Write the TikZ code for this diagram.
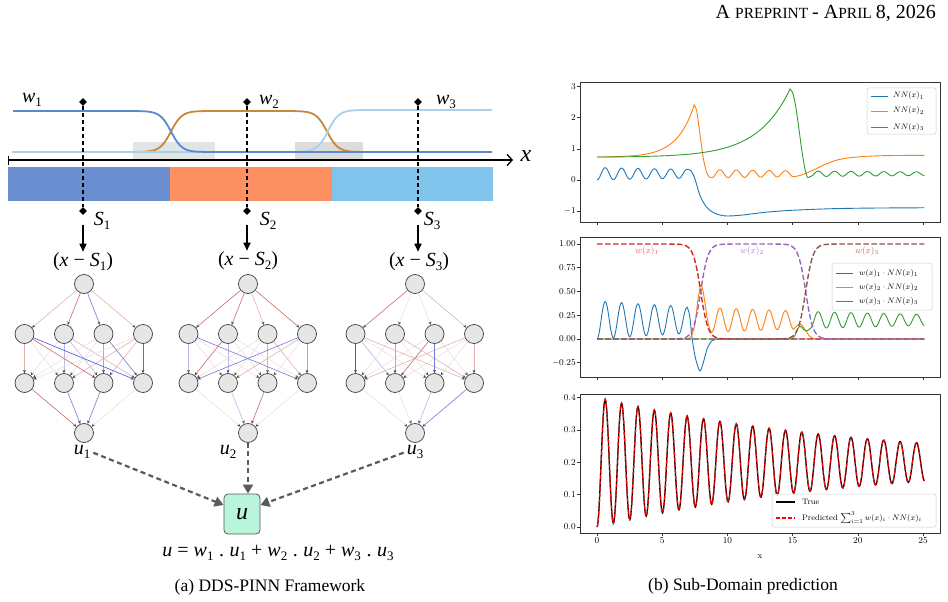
\documentclass[tikz,border=0pt]{standalone}
\usepackage{fontspec}
\newfontfamily\tnr{Liberation Serif}
\usetikzlibrary{arrows.meta,shapes.geometric}
\definecolor{wblue}{HTML}{5B89CF}
\definecolor{worange}{HTML}{C8883C}
\definecolor{wlight}{HTML}{A9D1EA}
\definecolor{barA}{HTML}{6A8ECF}
\definecolor{barB}{HTML}{FD9060}
\definecolor{barC}{HTML}{80C4EB}
\definecolor{grayA}{HTML}{E1E5E4}
\definecolor{grayB}{HTML}{DCDCDC}
\definecolor{nodefill}{HTML}{E6E6E6}
\definecolor{efa}{HTML}{F0E0E0}
\definecolor{erl}{HTML}{E3B0B0}
\definecolor{erm}{HTML}{CC6A6A}
\definecolor{ers}{HTML}{D44A4A}
\definecolor{egr}{HTML}{C9A0A0}
\definecolor{ebl}{HTML}{B8B8EC}
\definecolor{ebm}{HTML}{7878DA}
\definecolor{ebs}{HTML}{4E4EE6}
\definecolor{boxfill}{HTML}{B9F5DA}
\definecolor{darrow}{HTML}{5A5A5A}
\definecolor{mCa}{HTML}{1F77B4}
\definecolor{mCb}{HTML}{FF7F0E}
\definecolor{mCc}{HTML}{2CA02C}
\definecolor{mCd}{HTML}{D62728}
\definecolor{mCe}{HTML}{9467BD}
\definecolor{mCf}{HTML}{8C564B}
\definecolor{frm}{HTML}{333333}
\newcommand{\vsub}[2]{\textit{#1}\raisebox{-0.4ex}{\fontsize{13}{13}\selectfont #2}}
\newcommand{\nnet}[2]{%
  \node[nn] (#1i) at (#2,284) {};
  \foreach \k/\dx in {1/-59.5,2/-20,3/19.5,4/59}{%
    \node[nn] (#1a\k) at (#2+\dx,334) {};
    \node[nn] (#1b\k) at (#2+\dx,383) {};}
  \node[nn] (#1o) at (#2,433) {};}
\begin{document}
\begin{tikzpicture}[x=1pt,y=-1pt,
  declare function={uu(\x)=0.2-0.2*exp(-0.049*\x)*cos(deg(5*\x));},
  nn/.style={circle,draw=black!75,fill=nodefill,minimum size=19pt,inner sep=0pt,line width=0.7pt},
  edge/.style={line width=0.6pt,-{Stealth[length=3.3pt,width=3pt,color=black!70]}},
  diam/.style={diamond,fill=black,inner sep=0pt,minimum size=8pt},
  vdash/.style={line width=1.6pt,dash pattern=on 4pt off 3pt},
  sarrow/.style={line width=1.6pt,-{Triangle[length=8pt,width=7pt]}},
  garrow/.style={draw=darrow,line width=2.2pt,dash pattern=on 5pt off 3.5pt,-{Triangle[length=9pt,width=10pt]}},
  lab/.style={font=\tnr\fontsize{20}{24}\selectfont,inner sep=1pt},
  ubox/.style={draw=black!65,fill=boxfill,rounded corners=4pt,minimum width=36pt,minimum height=40pt,line width=0.8pt,font=\tnr\fontsize{24}{24}\selectfont},
  wline/.style={line width=1.8pt},
  frame/.style={draw=frm,line width=0.6pt},
  ticklab/.style={font=\fontsize{8.6}{10}\selectfont,inner sep=1.5pt},
  legtxt/.style={font=\fontsize{8}{9.5}\selectfont,anchor=west,inner sep=0pt},
  legframe/.style={draw=black!20,fill=white,fill opacity=0.8,rounded corners=2pt,line width=0.5pt},
  wdash/.style={line width=1.4pt,dash pattern=on 5.5pt off 2.5pt},
  curve/.style={line width=0.9pt},
  captext/.style={font=\tnr\fontsize{17.5}{20}\selectfont}
]
\useasboundingbox (0,0) rectangle (948,602);
\fill[white] (0,0) rectangle (948,602);

% header
\node[anchor=base east,inner sep=0pt] (hdr) at (936,19) {\tnr\fontsize{20}{20}\selectfont A \fontsize{15.5}{15.5}\selectfont PREPRINT \fontsize{20}{20}\selectfont - A\fontsize{15.5}{15.5}\selectfont PRIL \fontsize{20}{20}\selectfont 8, 2026};

% ---------- left: partition of unity ----------
\fill[grayA] (133,142) rectangle (215,159);
\fill[grayB] (295,142) rectangle (363,159);
\fill[barA] (8,167) rectangle (170,201);
\fill[barB] (170,167) rectangle (332,201);
\fill[barC] (332,167) rectangle (493,201);

\draw[wline,worange] (12,152) -- (120,152)
  -- plot[domain=120:220,samples=80] (\x,{152-41/(1+exp(-(\x-171)/5.5))})
  -- (277,111)
  -- plot[domain=277:377,samples=80] (\x,{111+41/(1+exp(-(\x-327)/5.5))}) -- (387,152);
\draw[wline,wlight] (12,152) -- (277,152)
  -- plot[domain=277:377,samples=80] (\x,{152-42/(1+exp(-(\x-328)/5.5))})
  -- (492,110);
\draw[wline,wblue] (13,111) -- (120,111)
  -- plot[domain=120:220,samples=80] (\x,{111+41/(1+exp(-(\x-171)/5.5))})
  -- (492,152);

\coordinate (axl) at (8,160);
\coordinate (axr) at (513,160);
\draw[line width=1.4pt,{Bar[width=9pt]}-{Straight Barb[length=5pt,width=11pt,line width=1.3pt]}] (axl) -- (axr);
\node[font=\tnr\itshape\fontsize{24}{24}\selectfont] (xax) at (526,156) {x};

\foreach \i/\xx in {1/83,2/247,3/418}{
  \node[diam] (d\i t) at (\xx,102) {};
  \node[diam] (d\i b) at (\xx,211) {};
  \draw[vdash] (d\i t) -- (d\i b);
}
\node[lab] (w1lab) at (32,100) {\vsub{w}{1}};
\node[lab] (w2lab) at (269,102) {\vsub{w}{2}};
\node[lab] (w3lab) at (446,102) {\vsub{w}{3}};
\node[lab] (s1lab) at (102,221) {\vsub{S}{1}};
\node[lab] (s2lab) at (268,221) {\vsub{S}{2}};
\node[lab] (s3lab) at (432,221) {\vsub{S}{3}};
\node[lab] (xs1) at (83,262) {(\textit{x} − \vsub{S}{1})};
\node[lab] (xs2) at (248,261) {(\textit{x} − \vsub{S}{2})};
\node[lab] (xs3) at (419,262) {(\textit{x} − \vsub{S}{3})};
\foreach \i in {1,2,3}{\draw[sarrow] ([yshift=-14pt]d\i b.center) -- (d\i b.center |- xs\i.north);}

% ---------- networks ----------
\nnet{A}{84}
\nnet{B}{248}
\nnet{C}{415}
\foreach \s/\t/\c in {i/a1/erl,i/a2/erm,i/a3/ebm,i/a4/erl,
  a1/b1/erl,a1/b2/efa,a2/b1/efa,a2/b2/ebl,a2/b3/ebl,a2/b4/erl,
  a3/b1/efa,a3/b2/efa,a3/b3/egr,a4/b1/efa,a4/b2/erl,a4/b3/erl,
  a1/b3/erm,a3/b4/ebm,a1/b4/ebs,a4/b4/ers,
  b1/o/erm,b2/o/ebm,b3/o/ebm,b4/o/efa}
  {\draw[edge,draw=\c] (A\s) -- (A\t);}
\foreach \s/\t/\c in {i/a1/erm,i/a2/erm,i/a3/erl,i/a4/erm,
  a1/b2/efa,a1/b3/efa,a2/b3/efa,a2/b4/efa,a3/b1/efa,a3/b2/efa,a4/b3/efa,
  a1/b1/ebl,a2/b2/ebl,a3/b3/ebl,a3/b4/erl,a4/b2/erl,a4/b4/egr,
  a1/b4/ebm,a2/b1/erm,a4/b1/ebm,
  b1/o/efa,b2/o/ebl,b3/o/erm,b4/o/efa}
  {\draw[edge,draw=\c] (B\s) -- (B\t);}
\foreach \s/\t/\c in {i/a1/erm,i/a2/efa,i/a3/efa,i/a4/erl,
  a1/b3/efa,a2/b1/efa,a2/b3/efa,a3/b1/efa,a3/b4/efa,a4/b2/efa,a4/b3/efa,
  a1/b2/ebl,a1/b4/erl,a2/b4/erl,a4/b1/erl,a4/b4/erl,a2/b2/egr,
  a1/b1/ebs,a3/b2/erm,a3/b3/ebm,
  b1/o/efa,b2/o/efa,b3/o/ebl,b4/o/ebm}
  {\draw[edge,draw=\c] (C\s) -- (C\t);}

\node[lab] (u1lab) at (82,452) {\vsub{u}{1}};
\node[lab] (u2lab) at (228,452) {\vsub{u}{2}};
\node[lab] (u3lab) at (415,452) {\vsub{u}{3}};
\node[ubox] (ub) at (242,514) {\textit{u}};
\draw[garrow,shorten <=2pt] (u1lab.east) -- ([yshift=9pt]ub.west);
\draw[garrow] (Bo.south) -- (Bo.south |- ub.north);
\draw[garrow,shorten <=2pt] (u3lab.west) -- ([yshift=9pt]ub.east);
\node[lab] (eq) at (278,553) {\textit{u} = \vsub{w}{1}\;.\;\vsub{u}{1} + \vsub{w}{2}\;.\;\vsub{u}{2} + \vsub{w}{3}\;.\;\vsub{u}{3}};
\node[captext] (capa) at (270,587) {(a) DDS-PINN Framework};
\node[captext] (capb) at (743,586) {(b) Sub-Domain prediction};

% ---------- plot 1 ----------
\begin{scope}[shift={(597,180)},x=13.04pt,y=31.2pt]
  \draw[frame] (-1.27,-1.35) rectangle (26.35,3.12);
  \foreach \t in {0,5,...,25} \draw[frame] (\t,-1.35) -- ++(0pt,-3pt);
  \foreach \v in {-1,0,1,2,3} \draw[frame] (-1.27,\v) -- ++(-3pt,0pt) node[left,ticklab] {$\v$};
  \draw[curve,mCa] plot[domain=0:6.91,samples=100] (\x,{uu(\x)})
    -- plot[smooth] coordinates {(6.91,0.342) (7.2,0.3) (7.5,0.05) (7.9,-0.5) (8.4,-0.87) (9,-1.06) (9.8,-1.15) (11,-1.13) (13,-1.03) (15,-0.97) (18,-0.92) (21,-0.9) (25.1,-0.89)};
  \draw[curve,mCb] plot[domain=0:7.45,samples=50] (\x,{0.73+0.0058*exp(0.76*\x)})
    -- plot[smooth] coordinates {(7.45,2.40) (7.65,2.2) (7.9,1.45) (8.15,0.7) (8.4,0.25) (8.6,0.1) (8.796,0.07)}
    -- plot[domain=8.796:15.08,samples=120] (\x,{uu(\x)})
    -- plot[smooth] coordinates {(15.08,0.104) (15.6,0.15) (16.5,0.3) (17.5,0.5) (18.5,0.65) (20,0.74) (22,0.78) (25.1,0.79)};
  \draw[curve,mCc] plot[domain=0:14.8,samples=60] (\x,{0.73+0.00586*exp(0.40*\x)})
    -- plot[smooth] coordinates {(14.8,2.92) (15.0,2.8) (15.2,2.45) (15.45,1.75) (15.7,0.97) (15.95,0.35) (16.15,0.08) (16.336,0.11)}
    -- plot[domain=16.336:25.1,samples=180] (\x,{uu(\x)});
\end{scope}
\draw[legframe] (867,88) rectangle (936,134);
\draw[curve,mCa] (871,96) -- (888,96);
\draw[curve,mCb] (871,111) -- (888,111);
\draw[curve,mCc] (871,127) -- (888,127);
\node[legtxt] (la1) at (893,96) {$NN(x)_1$};
\node[legtxt] (la2) at (893,111) {$NN(x)_2$};
\node[legtxt] (la3) at (893,127) {$NN(x)_3$};

% ---------- plot 2 ----------
\begin{scope}[shift={(597,339)},x=13.04pt,y=95pt]
  \draw[frame] (-1.27,-0.4) rectangle (26.35,1.067);
  \foreach \t in {0,5,...,25} \draw[frame] (\t,-0.4) -- ++(0pt,-3pt);
  \foreach \v/\l in {1/1.00,0.75/0.75,0.5/0.50,0.25/0.25,0/0.00,-0.25/-0.25} \draw[frame] (-1.27,\v) -- ++(-3pt,0pt) node[left,ticklab] {$\l$};
  \draw[curve,mCa] plot[domain=0:6.91,samples=100] (\x,{uu(\x)/(1+exp(3.5*(\x-7.95)))})
    -- plot[smooth] coordinates {(6.91,0.333) (7.1,0.25) (7.3,0.0) (7.55,-0.2) (7.88,-0.335) (8.15,-0.25) (8.45,-0.1) (8.8,-0.02) (9.2,0)} -- (25.1,0);
  \draw[curve,mCb] (0,0) -- (6.9,0)
    -- plot[smooth] coordinates {(6.9,0) (7.2,0.02) (7.5,0.15) (7.75,0.42) (7.98,0.57) (8.2,0.45) (8.45,0.22) (8.65,0.1) (8.796,0.07)}
    -- plot[domain=8.796:15.08,samples=120] (\x,{uu(\x)})
    -- plot[smooth] coordinates {(15.08,0.104) (15.35,0.14) (15.65,0.155) (15.95,0.1) (16.3,0.03) (16.7,0.0)} -- (25.1,0);
  \draw[curve,mCc] (0,0) -- (14.9,0)
    -- plot[smooth] coordinates {(14.9,0) (15.15,0.03) (15.4,0.11) (15.6,0.135) (15.85,0.1) (16.1,0.085) (16.336,0.11)}
    -- plot[domain=16.336:25.1,samples=180] (\x,{uu(\x)});
  \draw[wdash,mCd] (0,1) -- (5.4,1) -- plot[domain=5.4:10.5,samples=60] (\x,{1/(1+exp(3.5*(\x-7.95)))}) -- (25.1,0);
  \draw[wdash,mCe] (0,0) -- (5.4,0) -- plot[domain=5.4:10.5,samples=60] (\x,{1/(1+exp(-3.5*(\x-7.95)))})
    -- (13.5,1) -- plot[domain=13.5:18.5,samples=60] (\x,{1/(1+exp(3.5*(\x-16)))}) -- (25.1,0);
  \draw[wdash,mCf] (0,0) -- (13.5,0) -- plot[domain=13.5:18.5,samples=60] (\x,{1/(1+exp(-3.5*(\x-16)))}) -- (25.1,1);
\end{scope}
\node[ticklab,text=mCd!75] (wl1) at (647,251) {$w(x)_1$};
\node[ticklab,text=mCe!85] (wl2) at (752,251) {$w(x)_2$};
\node[ticklab,text=mCf!55!mCd!80] (wl3) at (867,251) {$w(x)_3$};
\draw[legframe] (832,263) rectangle (932,310);
\draw[curve,mCa] (836,273) -- (853,273);
\draw[curve,mCb] (836,287) -- (853,287);
\draw[curve,mCc] (836,301) -- (853,301);
\node[legtxt] (lb1) at (859,273) {$w(x)_1\cdot NN(x)_1$};
\node[legtxt] (lb2) at (859,287) {$w(x)_2\cdot NN(x)_2$};
\node[legtxt] (lb3) at (859,301) {$w(x)_3\cdot NN(x)_3$};

% ---------- plot 3 ----------
\begin{scope}[shift={(597,527)},x=13.04pt,y=324pt]
  \draw[frame] (-1.27,-0.0195) rectangle (26.35,0.41);
  \foreach \t in {0,5,...,25} \draw[frame] (\t,-0.0195) -- ++(0pt,-3pt) node[below,ticklab] {$\t$};
  \foreach \v/\l in {0/0.0,0.1/0.1,0.2/0.2,0.3/0.3,0.4/0.4} \draw[frame] (-1.27,\v) -- ++(-3pt,0pt) node[left,ticklab] {$\l$};
  \draw[line width=1.3pt,black] plot[domain=0:25.1,samples=600] (\x,{uu(\x)});
  \draw[line width=1.2pt,red,dash pattern=on 4pt off 2pt] plot[domain=0:25.1,samples=600] (\x,{uu(\x)});
\end{scope}
\node[ticklab] (xl) at (760,557) {x};
\draw[legframe] (772,494) rectangle (936,527);
\draw[line width=1.2pt,black] (776,502) -- (795,502);
\draw[line width=1.2pt,red,dash pattern=on 4pt off 2pt] (776,518) -- (795,518);
\node[legtxt] (lc1) at (802,502) {True};
\node[legtxt] (lc2) at (802,518) {Predicted $\sum_{i=1}^{3} w(x)_i\cdot NN(x)_i$};
\end{tikzpicture}
\end{document}
